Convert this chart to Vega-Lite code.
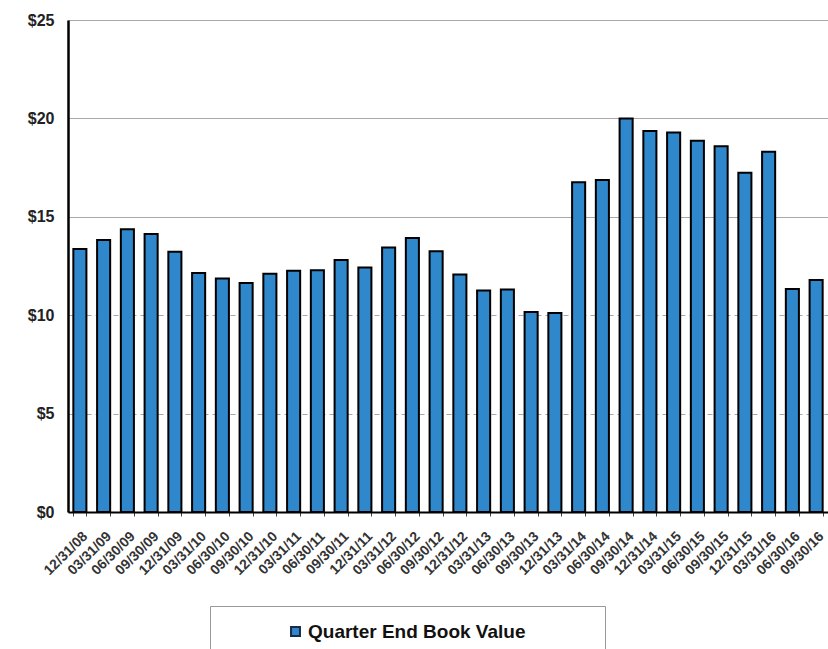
{
  "$schema": "https://vega.github.io/schema/vega-lite/v6.json",
  "autosize": {"type": "none"},
  "padding": {"left": 68, "top": 20, "right": 0, "bottom": 137},
  "width": 760,
  "height": 492,
  "background": "white",
  "config": {
    "font": "Liberation Sans",
    "view": {"stroke": null}
  },
  "data": {
    "values": [
      {"quarter": "12/31/08", "value": 13.36, "series": "Quarter End Book Value"},
      {"quarter": "03/31/09", "value": 13.82, "series": "Quarter End Book Value"},
      {"quarter": "06/30/09", "value": 14.37, "series": "Quarter End Book Value"},
      {"quarter": "09/30/09", "value": 14.12, "series": "Quarter End Book Value"},
      {"quarter": "12/31/09", "value": 13.22, "series": "Quarter End Book Value"},
      {"quarter": "03/31/10", "value": 12.15, "series": "Quarter End Book Value"},
      {"quarter": "06/30/10", "value": 11.87, "series": "Quarter End Book Value"},
      {"quarter": "09/30/10", "value": 11.63, "series": "Quarter End Book Value"},
      {"quarter": "12/31/10", "value": 12.1, "series": "Quarter End Book Value"},
      {"quarter": "03/31/11", "value": 12.26, "series": "Quarter End Book Value"},
      {"quarter": "06/30/11", "value": 12.28, "series": "Quarter End Book Value"},
      {"quarter": "09/30/11", "value": 12.8, "series": "Quarter End Book Value"},
      {"quarter": "12/31/11", "value": 12.42, "series": "Quarter End Book Value"},
      {"quarter": "03/31/12", "value": 13.44, "series": "Quarter End Book Value"},
      {"quarter": "06/30/12", "value": 13.92, "series": "Quarter End Book Value"},
      {"quarter": "09/30/12", "value": 13.25, "series": "Quarter End Book Value"},
      {"quarter": "12/31/12", "value": 12.07, "series": "Quarter End Book Value"},
      {"quarter": "03/31/13", "value": 11.25, "series": "Quarter End Book Value"},
      {"quarter": "06/30/13", "value": 11.3, "series": "Quarter End Book Value"},
      {"quarter": "09/30/13", "value": 10.16, "series": "Quarter End Book Value"},
      {"quarter": "12/31/13", "value": 10.11, "series": "Quarter End Book Value"},
      {"quarter": "03/31/14", "value": 16.76, "series": "Quarter End Book Value"},
      {"quarter": "06/30/14", "value": 16.87, "series": "Quarter End Book Value"},
      {"quarter": "09/30/14", "value": 20.0, "series": "Quarter End Book Value"},
      {"quarter": "12/31/14", "value": 19.36, "series": "Quarter End Book Value"},
      {"quarter": "03/31/15", "value": 19.28, "series": "Quarter End Book Value"},
      {"quarter": "06/30/15", "value": 18.86, "series": "Quarter End Book Value"},
      {"quarter": "09/30/15", "value": 18.58, "series": "Quarter End Book Value"},
      {"quarter": "12/31/15", "value": 17.24, "series": "Quarter End Book Value"},
      {"quarter": "03/31/16", "value": 18.3, "series": "Quarter End Book Value"},
      {"quarter": "06/30/16", "value": 11.33, "series": "Quarter End Book Value"},
      {"quarter": "09/30/16", "value": 11.79, "series": "Quarter End Book Value"}
    ]
  },
  "mark": {"type": "bar", "stroke": "black", "strokeWidth": 2},
  "encoding": {
    "x": {
      "field": "quarter",
      "type": "ordinal",
      "sort": null,
      "scale": {"paddingInner": 0.45, "paddingOuter": 0.225},
      "axis": {
        "title": null,
        "labelAngle": -45,
        "labelFont": "Liberation Sans",
        "labelFontWeight": "bold",
        "labelFontSize": 14,
        "labelColor": "#333",
        "labelPadding": 13,
        "domainColor": "black",
        "domainWidth": 2,
        "tickBand": "extent",
        "tickColor": "#444",
        "tickSize": 4,
        "grid": false
      }
    },
    "y": {
      "field": "value",
      "type": "quantitative",
      "scale": {"domain": [0, 25], "nice": false},
      "axis": {
        "title": null,
        "values": [0, 5, 10, 15, 20, 25],
        "format": "$,.0f",
        "labelFont": "Liberation Sans",
        "labelFontWeight": "bold",
        "labelFontSize": 16,
        "labelColor": "#222",
        "labelPadding": 14,
        "ticks": false,
        "domainColor": "black",
        "domainWidth": 2.5,
        "grid": true,
        "gridColor": "#a8a8a8",
        "gridWidth": 1.2,
        "gridDash": {"condition": {"test": "datum.value <= 10", "value": [5, 4]}, "value": []}
      }
    },
    "color": {
      "field": "series",
      "type": "nominal",
      "scale": {"range": ["#2f88cc"]},
      "legend": {
        "orient": "none",
        "legendX": 142,
        "legendY": 586,
        "title": " ",
        "titleOrient": "right",
        "titlePadding": 64,
        "symbolType": "square",
        "symbolSize": 80,
        "symbolOffset": 60,
        "symbolStrokeColor": "#1a2a4a",
        "symbolStrokeWidth": 2,
        "labelFont": "Liberation Sans",
        "labelFontWeight": "bold",
        "labelFontSize": 19,
        "labelLimit": 400,
        "labelColor": "#111",
        "labelOffset": 3,
        "padding": 16,
        "strokeColor": "#999",
        "fillColor": "white"
      }
    }
  }
}
